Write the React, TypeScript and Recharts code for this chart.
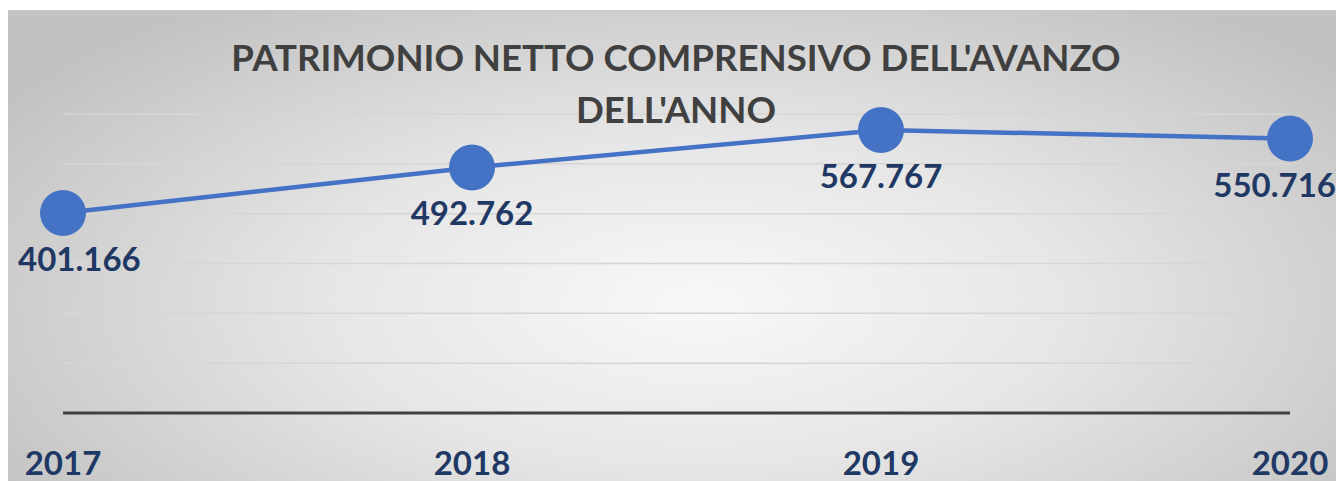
import React from 'react';
import { LineChart, Line, XAxis, YAxis, CartesianGrid, LabelList } from 'recharts';

const years = ['2017', '2018', '2019', '2020'];
const values = [401.166, 492.762, 567.767, 550.716];
const labels = ['401.166', '492.762', '567.767', '550.716'];
const yTicks = [0, 100, 200, 300, 400, 500, 600];
const titleLines = ["PATRIMONIO NETTO COMPRENSIVO DELL'AVANZO", "DELL'ANNO"];

const data = years.map((y, i) => ({ year: y, value: values[i], label: labels[i] }));

const W = 1328;
const H = 471;
const FONT = 'Lato, "Open Sans", sans-serif';
const LABEL_COLOR = '#1f3864';

const ValueLabel = (props: any) => {
  const { x, y, index } = props;
  const text = labels[index];
  const approxW = 124;
  let anchor: 'middle' | 'start' | 'end' = 'middle';
  let tx = x;
  if (x - approxW / 2 < 10) {
    anchor = 'start';
    tx = 10;
  } else if (x + approxW / 2 > W) {
    anchor = 'end';
    tx = W;
  }
  return (
    <text
      x={tx}
      y={y + 45}
      textAnchor={anchor}
      dominantBaseline="central"
      fontFamily={FONT}
      fontWeight={700}
      fontSize={33}
      fill={LABEL_COLOR}
    >
      {text}
    </text>
  );
};

const YearTick = (props: any) => {
  const { x, y, payload } = props;
  return (
    <text
      x={x}
      y={y + 41}
      textAnchor="middle"
      dominantBaseline="central"
      fontFamily={FONT}
      fontWeight={700}
      fontSize={33}
      fill={LABEL_COLOR}
    >
      {payload.value}
    </text>
  );
};

export default function App() {
  return (
    <div
      style={{
        position: 'absolute',
        left: 8,
        top: 10,
        width: W,
        height: H,
        boxSizing: 'border-box',
        borderTop: '1px solid #c8c8c8',
        background:
          'radial-gradient(ellipse 62% 78% at 52% 62%, #f8f8f8 0%, #e6e6e6 45%, #c2c2c2 100%)',
        overflow: 'hidden',
      }}
    >
      <div style={{ position: 'absolute', left: 0, top: -1 }}>
        <LineChart width={W} height={H} data={data} margin={{ top: 104, right: 46, bottom: 0, left: 55 }}>
          <CartesianGrid horizontal vertical={false} stroke="#d6d6d6" strokeWidth={1.5} />
          <YAxis hide domain={[0, 600]} ticks={yTicks} type="number" />
          <XAxis
            dataKey="year"
            height={68}
            axisLine={{ stroke: '#404040', strokeWidth: 3 }}
            tickLine={false}
            tick={<YearTick />}
            interval={0}
          />
          <Line
            type="linear"
            dataKey="value"
            stroke="#4472c4"
            strokeWidth={4.5}
            dot={{ r: 23, fill: '#4472c4', stroke: '#4472c4', strokeWidth: 0 }}
            activeDot={false}
            isAnimationActive={false}
          >
            <LabelList dataKey="label" content={<ValueLabel />} />
          </Line>
        </LineChart>
      </div>
      <div
        style={{
          position: 'absolute',
          left: 0,
          top: 0,
          width: W,
          textAlign: 'center',
          fontFamily: FONT,
          fontWeight: 700,
          fontSize: 36.6,
          color: '#404040',
          lineHeight: '52px',
          paddingTop: 20,
          paddingLeft: 8,
          boxSizing: 'border-box',
          zIndex: 2,
          pointerEvents: 'none',
        }}
      >
        {titleLines.map((t) => (
          <div key={t}>{t}</div>
        ))}
      </div>
    </div>
  );
}
